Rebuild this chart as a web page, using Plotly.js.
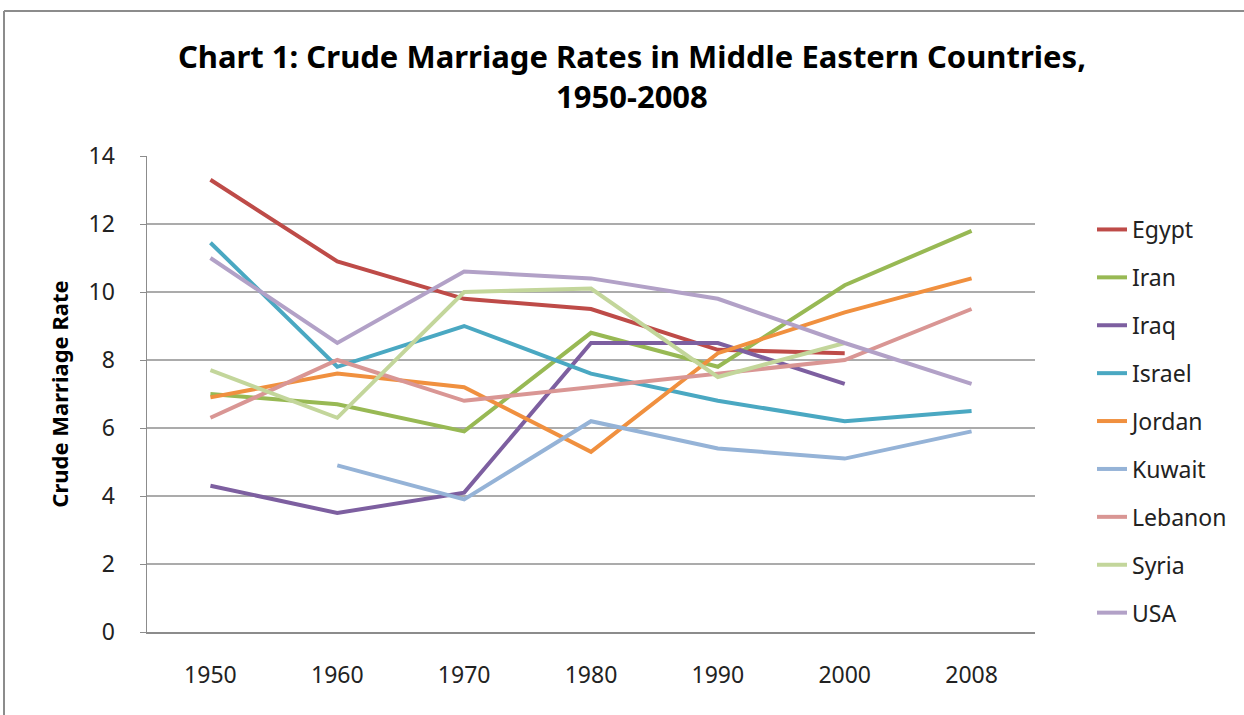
<!DOCTYPE html>
<html>
<head>
<meta charset="utf-8">
<script src="https://cdn.plot.ly/plotly-3.0.1.min.js"></script>
<style>
  html, body { margin: 0; padding: 0; background: #ffffff; }
  #chart { width: 1244px; height: 715px; }
</style>
</head>
<body>
<div id="chart"></div>
<script>
const years = ["1950", "1960", "1970", "1980", "1990", "2000", "2008"];
const egypt   = [13.3, 10.9, 9.8, 9.5, 8.3, 8.2, null];
const iran    = [7.0, 6.7, 5.9, 8.8, 7.8, 10.2, 11.8];
const iraq    = [4.3, 3.5, 4.1, 8.5, 8.5, 7.3, null];
const israel  = [11.45, 7.8, 9.0, 7.6, 6.8, 6.2, 6.5];
const jordan  = [6.9, 7.6, 7.2, 5.3, 8.2, 9.4, 10.4];
const kuwait  = [null, 4.9, 3.9, 6.2, 5.4, 5.1, 5.9];
const lebanon = [6.3, 8.0, 6.8, 7.2, 7.6, 8.0, 9.5];
const syria   = [7.7, 6.3, 10.0, 10.1, 7.5, 8.5, null];
const usa     = [11.0, 8.5, 10.6, 10.4, 9.8, 8.5, 7.3];

const seriesNames = ["Egypt", "Iran", "Iraq", "Israel", "Jordan", "Kuwait", "Lebanon", "Syria", "USA"];
const seriesValues = [egypt, iran, iraq, israel, jordan, kuwait, lebanon, syria, usa];
const seriesColors = ["#BE4B48", "#98B954", "#7D5FA0", "#4AA8C2", "#F0903F",
                      "#95B3D7", "#D99694", "#C3D69B", "#B2A1C7"];

const FONT = "Noto Sans, Open Sans, sans-serif";

const traces = seriesNames.map((name, i) => ({
  type: "scatter",
  mode: "lines",
  name: name,
  legendgroup: name,
  x: years,
  y: seriesValues[i],
  connectgaps: false,
  line: { color: seriesColors[i], width: 4 },
  hoverinfo: "x+y+name"
}));

const L = 147, R = 1035, T = 156, B = 632;
const pw = R - L, ph = B - T;
const px = v => (v - L) / pw;
const py = v => (B - v) / ph;

const layout = {
  width: 1244,
  height: 715,
  margin: { l: L, r: 1244 - R, t: T, b: 715 - B, pad: 0 },
  paper_bgcolor: "#ffffff",
  plot_bgcolor: "#ffffff",
  font: { family: FONT, color: "#222222", size: 23 },
  title: {
    text: "<b>Chart 1: Crude Marriage Rates in Middle Eastern Countries,<br>1950-2008</b>",
    font: { family: FONT, size: 31, color: "#000000" },
    x: 0.508, xref: "container", xanchor: "center",
    y: 1 - 68 / 715, yref: "container", yanchor: "top"
  },
  xaxis: {
    type: "category",
    range: [-0.5, 6.5],
    showgrid: false,
    zeroline: false,
    showline: true,
    linecolor: "#8c8c8c",
    linewidth: 1.5,
    ticks: "",
    ticklabelstandoff: 22,
    tickfont: { family: FONT, size: 23, color: "#222222" },
    fixedrange: true
  },
  yaxis: {
    range: [0, 14],
    dtick: 2,
    tick0: 0,
    showgrid: true,
    gridcolor: "#ababab",
    gridwidth: 1.2,
    zeroline: false,
    showline: true,
    linecolor: "#8c8c8c",
    linewidth: 1.5,
    ticks: "outside",
    ticklen: 6,
    tickcolor: "#8c8c8c",
    ticklabelstandoff: 20,
    tickfont: { family: FONT, size: 23, color: "#222222" },
    title: {
      text: "<b>Crude Marriage Rate</b>",
      font: { family: FONT, size: 22, color: "#000000" },
      standoff: 14
    },
    fixedrange: true
  },
  showlegend: true,
  legend: {
    x: px(1092), xanchor: "left",
    y: py(208), yanchor: "top",
    bgcolor: "rgba(0,0,0,0)",
    font: { family: FONT, size: 23, color: "#222222" },
    tracegroupgap: 15
  },
  shapes: [
    { type: "line", xref: "paper", yref: "paper",
      x0: px(4), x1: px(4), y0: py(760), y1: py(11),
      line: { color: "#8c8c8c", width: 2 } },
    { type: "line", xref: "paper", yref: "paper",
      x0: px(4), x1: px(1300), y0: py(11), y1: py(11),
      line: { color: "#8c8c8c", width: 2 } }
  ]
};

Plotly.newPlot("chart", traces, layout, { displayModeBar: false, staticPlot: true });
</script>
</body>
</html>
